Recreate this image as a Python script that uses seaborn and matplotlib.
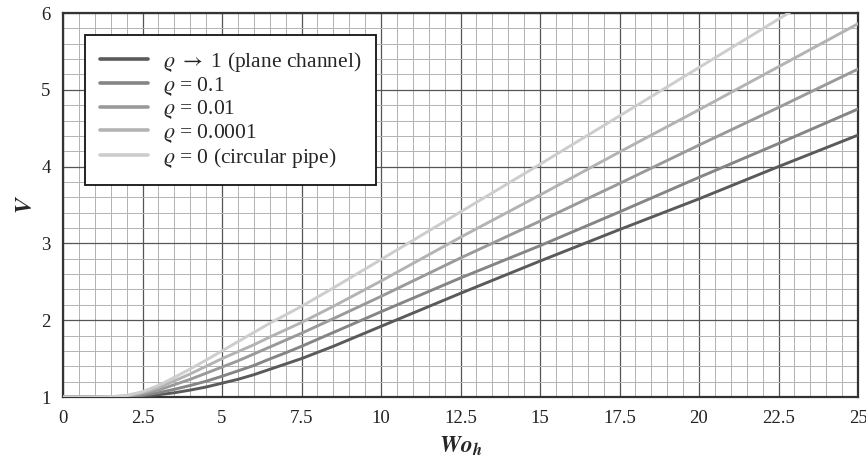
import matplotlib
matplotlib.use("Agg")
import matplotlib.pyplot as plt
from matplotlib.ticker import MultipleLocator
import seaborn as sns
import pandas as pd

# valores
wo = [0, 1, 1.5, 2, 2.5, 3, 3.5, 4, 4.5, 5, 5.5, 6, 6.5, 7, 7.5, 8.5, 10, 12.5, 15, 17.5, 20, 22.5, 25]
v_plane = [1, 1, 1.0, 1.003, 1.012, 1.03, 1.055, 1.09, 1.13, 1.18, 1.23, 1.29, 1.36, 1.43, 1.50, 1.66, 1.92,
           2.35, 2.77, 3.18, 3.58, 4.00, 4.41]
v_01 = [1, 1, 1.001, 1.006, 1.022, 1.055, 1.10, 1.15, 1.205, 1.27, 1.34, 1.41, 1.495, 1.575, 1.66, 1.84, 2.11,
        2.55, 2.97, 3.41, 3.86, 4.30, 4.75]
v_001 = [1, 1, 1.002, 1.01, 1.04, 1.09, 1.16, 1.23, 1.31, 1.39, 1.47, 1.56, 1.65, 1.74, 1.83, 2.02, 2.31,
         2.81, 3.29, 3.78, 4.28, 4.77, 5.27]
v_00001 = [1, 1, 1.003, 1.015, 1.055, 1.12, 1.21, 1.30, 1.40, 1.50, 1.59, 1.68, 1.78, 1.875, 1.97, 2.18, 2.51,
           3.08, 3.63, 4.19, 4.74, 5.30, 5.86]
v_pipe = [1, 1, 1.004, 1.02, 1.07, 1.15, 1.255, 1.365, 1.48, 1.60, 1.72, 1.84, 1.96, 2.07, 2.18, 2.42, 2.79,
          3.41, 4.03, 4.66, 5.29, 5.92, 6.55]

labels = [r"$\varrho$ $\rightarrow$ 1 (plane channel)", r"$\varrho$ = 0.1", r"$\varrho$ = 0.01",
          r"$\varrho$ = 0.0001", r"$\varrho$ = 0 (circular pipe)"]
series = [v_plane, v_01, v_001, v_00001, v_pipe]
colores = ["#5a5a5a", "#858585", "#9a9a9a", "#b3b3b3", "#cdcdcd"]

df = pd.concat([pd.DataFrame({"Wo": wo, "V": s, "caso": lab}) for s, lab in zip(series, labels)])

sns.set_theme(style="white")
plt.rcParams["font.family"] = ["Liberation Serif", "DejaVu Serif"]
plt.rcParams["mathtext.fontset"] = "stix"

fig = plt.figure(figsize=(8.66, 4.61), dpi=100)
ax = fig.add_axes([63 / 866, 1 - 397 / 461, 795 / 866, 384 / 461])

sns.lineplot(data=df, x="Wo", y="V", hue="caso", hue_order=labels, palette=colores,
             linewidth=2.1, ax=ax, legend=True, zorder=3)

ax.set_xlim(0, 25)
ax.set_ylim(1, 6)
ax.xaxis.set_minor_locator(MultipleLocator(0.5))
ax.yaxis.set_major_locator(MultipleLocator(1))
ax.yaxis.set_minor_locator(MultipleLocator(0.2))
ax.set_xticks([0, 2.5, 5, 7.5, 10, 12.5, 15, 17.5, 20, 22.5, 25])
ax.set_xticklabels(["0", "2.5", "5", "7.5", "10", "12.5", "15", "17.5", "20", "22.5", "25"])

ax.grid(True, which="major", color="#555555", linewidth=0.9)
ax.grid(True, which="minor", color="#b2b2b2", linewidth=0.7)
ax.set_axisbelow(True)
ax.tick_params(which="both", length=0, labelsize=13.5, colors="#222222")
ax.tick_params(axis="x", pad=9)
ax.tick_params(axis="y", pad=9)

for sp in ax.spines.values():
    sp.set_color("#333333")
    sp.set_linewidth(1.6)

ax.set_xlabel(r"$\mathbfit{Wo}_{\mathbfit{h}}$", fontsize=17, labelpad=6)
ax.set_ylabel(r"$\mathbfit{V}$", fontsize=17, labelpad=3)

handles, labs = ax.get_legend_handles_labels()
leg = ax.legend(handles, labs, loc="upper left", bbox_to_anchor=(0.028, 0.943), borderaxespad=0,
                fontsize=15.5, frameon=True, fancybox=False, framealpha=1, edgecolor="#111111",
                handlelength=2.2, handletextpad=0.7, labelspacing=0.03, borderpad=0.7)
leg.get_frame().set_linewidth(1.3)
for ln in leg.get_lines():
    ln.set_linewidth(2.6)

fig.savefig("out.png", dpi=100)
